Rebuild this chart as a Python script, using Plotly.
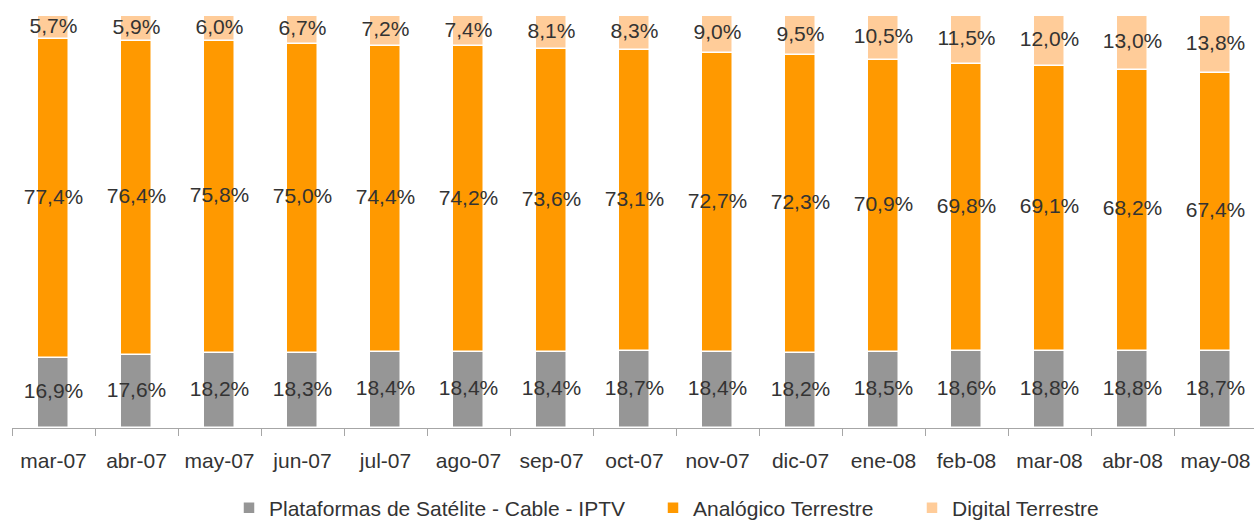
import plotly.graph_objects as go

categories = ["mar-07", "abr-07", "may-07", "jun-07", "jul-07", "ago-07", "sep-07", "oct-07",
              "nov-07", "dic-07", "ene-08", "feb-08", "mar-08", "abr-08", "may-08"]
satelite = [16.9, 17.6, 18.2, 18.3, 18.4, 18.4, 18.4, 18.7, 18.4, 18.2, 18.5, 18.6, 18.8, 18.8, 18.7]
analogico = [77.4, 76.4, 75.8, 75.0, 74.4, 74.2, 73.6, 73.1, 72.7, 72.3, 70.9, 69.8, 69.1, 68.2, 67.4]
digital = [5.7, 5.9, 6.0, 6.7, 7.2, 7.4, 8.1, 8.3, 9.0, 9.5, 10.5, 11.5, 12.0, 13.0, 13.8]

series_names = ["Plataformas de Satélite - Cable - IPTV", "Analógico Terrestre", "Digital Terrestre"]
series_values = [satelite, analogico, digital]
colors = ["#969696", "#FF9900", "#FFCC99"]
legend_ids = ["legend", "legend2", "legend3"]
legend_text_x = [269, 693, 952]

FONT = "Liberation Sans, Arial, sans-serif"
TXT = "#333333"

def fmt(v):
    return f"{v:.1f}".replace(".", ",") + "%"

fig = go.Figure()
base = [0.0] * len(categories)
for name, vals, col, lid in zip(series_names, series_values, colors, legend_ids):
    fig.add_trace(go.Bar(
        x=categories, y=vals, name=name, base=base, legend=lid,
        marker=dict(color=col, line=dict(color="white", width=1.5)),
        width=0.385, hoverinfo="skip",
    ))
    mids = [b + v / 2 for b, v in zip(base, vals)]
    fig.add_trace(go.Scatter(
        x=categories, y=mids, mode="text", text=[fmt(v) for v in vals],
        textposition="middle center", textfont=dict(family=FONT, size=21, color=TXT),
        showlegend=False, hoverinfo="skip",
    ))
    base = [b + v for b, v in zip(base, vals)]

def legend_box(tx):
    return dict(orientation="h", xref="container", yref="container",
                x=(tx - 40) / 1254, xanchor="left", y=1 - 508 / 520, yanchor="middle",
                font=dict(family=FONT, size=21, color=TXT), bgcolor="rgba(0,0,0,0)",
                itemwidth=30)

left_px, right_px, step = 12, 1254, 83.0
fig.update_layout(
    width=1254, height=520,
    margin=dict(l=left_px, r=0, t=16, b=92, pad=0),
    paper_bgcolor="white", plot_bgcolor="white",
    barmode="overlay", bargap=0,
    font=dict(family=FONT, size=21, color=TXT),
    showlegend=True,
    legend=legend_box(legend_text_x[0]),
    legend2=legend_box(legend_text_x[1]),
    legend3=legend_box(legend_text_x[2]),
    xaxis=dict(
        type="category", range=[-0.5, -0.5 + (right_px - left_px) / step],
        showline=True, linecolor="#A6A6A6", linewidth=1,
        ticks="outside", tickson="boundaries", ticklen=7, tickcolor="#A6A6A6",
        tickfont=dict(family=FONT, size=21, color=TXT), ticklabelstandoff=14,
        showgrid=False, zeroline=False,
    ),
    yaxis=dict(range=[0, 100], visible=False, showgrid=False, zeroline=False),
)

fig.write_html("out.html", config={"displayModeBar": False},
               post_script="document.body.style.margin='0';document.body.style.overflow='hidden';")
